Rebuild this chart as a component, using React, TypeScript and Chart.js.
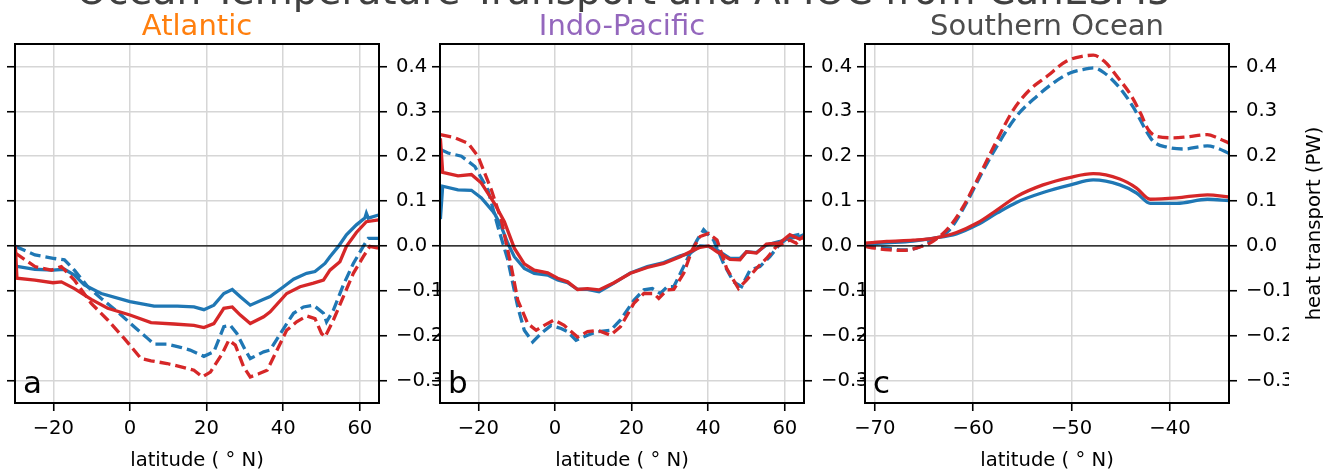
import { useEffect, useRef } from "react";
import { Chart, registerables } from "chart.js";
Chart.register(...registerables);

const W = 1323;
const H = 474;
const FONT = '"DejaVu Sans", sans-serif';

// ---- Tick values ----
const yTicks = [-0.3, -0.2, -0.1, 0.0, 0.1, 0.2, 0.3, 0.4];
const tropXTicks = [-20, 0, 20, 40, 60];
const soXTicks = [-70, -60, -50, -40];

// ---- Atlantic ----
const atlBlueSolidLat = [-29.9, -24.8, -20.1, -17.1, -14.5, -11.9, -7.5, 0, 6.3, 12.4, 16.7, 19.3, 21.9, 24.5, 26.7, 28.8, 31.4, 34.9, 36.6, 40.1, 42.7, 46.1, 48.3, 50.9, 52.2, 54.4, 56.5, 59.1, 61.3, 61.7, 62.2, 64.9];
const atlBlueSolid = [-0.045, -0.052, -0.054, -0.052, -0.065, -0.087, -0.106, -0.124, -0.134, -0.134, -0.136, -0.142, -0.132, -0.106, -0.097, -0.113, -0.132, -0.119, -0.113, -0.091, -0.074, -0.061, -0.057, -0.039, -0.024, -0.001, 0.025, 0.047, 0.062, 0.073, 0.062, 0.069];
const atlRedSolidLat = [-29.9, -29.5, -24.8, -20.1, -17.9, -14.5, -10.1, -5.8, 0, 5.5, 11.5, 16.7, 19.3, 21.9, 24.5, 26.7, 28.8, 31.4, 34.9, 36.6, 40.9, 44.4, 47.9, 50.5, 52.2, 54.8, 56.5, 59.1, 61.7, 64.9];
const atlRedSolid = [-0.001, -0.072, -0.076, -0.082, -0.080, -0.095, -0.119, -0.139, -0.154, -0.171, -0.174, -0.177, -0.182, -0.173, -0.139, -0.136, -0.154, -0.173, -0.158, -0.147, -0.106, -0.091, -0.083, -0.076, -0.054, -0.035, -0.001, 0.030, 0.054, 0.058];
const atlBlueDashLat = [-29.9, -24.8, -19.7, -17.1, -14.5, -11.0, -7.5, -3.2, 1.1, 4.6, 6.3, 9.7, 13.2, 15.7, 19.3, 21.9, 24.5, 26.2, 27.9, 30.1, 31.4, 34.9, 36.6, 40.1, 42.7, 45.3, 47.9, 50.5, 51.3, 53.1, 55.7, 58.3, 60.9, 62.2, 64.9];
const atlBlueDash = [-0.001, -0.020, -0.028, -0.031, -0.054, -0.091, -0.117, -0.147, -0.180, -0.206, -0.219, -0.219, -0.226, -0.232, -0.246, -0.236, -0.180, -0.177, -0.195, -0.232, -0.251, -0.236, -0.232, -0.184, -0.150, -0.136, -0.132, -0.150, -0.169, -0.143, -0.087, -0.039, -0.001, 0.017, 0.017];
const atlRedDashLat = [-29.9, -24.8, -20.5, -17.9, -14.5, -10.1, -5.8, -1.5, 2.9, 5.5, 9.7, 14.1, 16.7, 18.9, 21.0, 24.1, 25.8, 27.5, 29.7, 31.4, 33.6, 35.8, 38.4, 40.9, 43.5, 46.1, 48.3, 50.0, 50.9, 53.1, 55.7, 58.3, 60.9, 62.6, 64.9];
const atlRedDash = [-0.016, -0.046, -0.054, -0.046, -0.076, -0.128, -0.165, -0.206, -0.251, -0.256, -0.262, -0.271, -0.277, -0.292, -0.281, -0.240, -0.210, -0.221, -0.270, -0.292, -0.285, -0.277, -0.232, -0.188, -0.169, -0.156, -0.162, -0.195, -0.203, -0.165, -0.113, -0.061, -0.024, -0.001, -0.005];

// ---- Indo-Pacific ----
const indBlueSolidLat = [-29.9, -29.3, -25.3, -21.8, -19.2, -15.8, -14.0, -12.3, -10.6, -8.0, -5.4, -1.9, 0.7, 3.3, 5.9, 8.5, 11.5, 15.4, 19.7, 24.1, 28.4, 32.7, 35.3, 37.9, 40.1, 42.3, 45.7, 48.3, 50.0, 52.6, 55.2, 58.7, 61.3, 63.9, 64.9];
const indBlueSolid = [0.06, 0.133, 0.125, 0.124, 0.107, 0.073, 0.043, 0.006, -0.024, -0.050, -0.061, -0.065, -0.076, -0.082, -0.097, -0.097, -0.102, -0.083, -0.060, -0.046, -0.037, -0.022, -0.016, 0.0, -0.001, -0.009, -0.028, -0.028, -0.013, -0.015, 0.002, 0.010, 0.017, 0.021, 0.025];
const indRedSolidLat = [-29.9, -29.3, -25.3, -21.8, -19.2, -15.8, -13.2, -10.6, -8.0, -5.4, -1.9, 0.7, 3.3, 5.9, 8.5, 11.5, 15.4, 19.7, 24.1, 28.4, 32.7, 35.3, 37.9, 40.1, 42.3, 45.7, 48.3, 50.0, 52.6, 55.2, 58.7, 61.3, 63.9, 64.9];
const indRedSolid = [0.24, 0.164, 0.156, 0.159, 0.140, 0.095, 0.054, -0.005, -0.040, -0.054, -0.060, -0.072, -0.080, -0.097, -0.095, -0.098, -0.082, -0.061, -0.048, -0.039, -0.024, -0.013, -0.003, 0.0, -0.013, -0.030, -0.031, -0.013, -0.016, 0.004, 0.007, 0.025, 0.015, 0.021];
const indBlueDashLat = [-29.9, -27.9, -24.4, -20.9, -17.5, -14.9, -12.3, -9.7, -8.0, -5.8, -3.6, -1.0, 1.6, 3.3, 5.5, 8.5, 11.1, 14.5, 17.1, 20.6, 23.2, 25.4, 27.5, 29.3, 31.0, 33.6, 35.3, 37.1, 38.8, 41.4, 44.0, 46.6, 48.7, 50.9, 53.5, 56.1, 58.7, 61.3, 64.9];
const indBlueDash = [0.215, 0.207, 0.200, 0.177, 0.125, 0.043, -0.031, -0.136, -0.188, -0.214, -0.195, -0.177, -0.184, -0.191, -0.210, -0.199, -0.191, -0.188, -0.165, -0.121, -0.098, -0.095, -0.106, -0.091, -0.091, -0.046, -0.016, 0.013, 0.036, 0.013, -0.039, -0.080, -0.091, -0.054, -0.046, -0.024, 0.004, 0.021, 0.028];
const indRedDashLat = [-29.9, -26.1, -22.7, -20.1, -16.6, -14.0, -11.4, -9.7, -7.1, -4.9, -2.8, -0.2, 2.4, 5.9, 8.5, 11.1, 14.5, 17.1, 20.6, 23.2, 25.8, 27.1, 29.3, 31.0, 33.6, 35.8, 37.9, 40.1, 42.3, 44.8, 47.9, 50.0, 52.6, 55.2, 57.8, 61.3, 63.0, 64.9];
const indRedDash = [0.248, 0.241, 0.229, 0.200, 0.125, 0.058, -0.046, -0.121, -0.173, -0.188, -0.177, -0.165, -0.177, -0.203, -0.191, -0.188, -0.199, -0.180, -0.128, -0.106, -0.106, -0.117, -0.098, -0.097, -0.061, -0.009, 0.021, 0.028, 0.013, -0.050, -0.095, -0.076, -0.050, -0.028, -0.001, 0.013, 0.006, 0.021];

// ---- Southern Ocean ----
const soSolidLat = [-71, -68.8, -66.1, -64.1, -61.7, -59.6, -57.6, -55.6, -52.9, -50.1, -47.8, -45.1, -43.4, -42.0, -39.3, -36.2, -34];
const soRedSolid = [0.006, 0.010, 0.013, 0.017, 0.030, 0.051, 0.080, 0.110, 0.136, 0.153, 0.161, 0.149, 0.129, 0.104, 0.107, 0.114, 0.109];
const soBlueSolid = [0.004, 0.007, 0.011, 0.017, 0.027, 0.047, 0.073, 0.097, 0.119, 0.136, 0.147, 0.136, 0.118, 0.095, 0.095, 0.104, 0.101];
const soRedDashLat = [-71, -70, -68.5, -67.1, -65.8, -64.1, -62.4, -61.0, -59.6, -57.9, -55.9, -54.2, -52.5, -50.5, -48.8, -47.8, -46.7, -45.4, -44.0, -43.0, -42.2, -41.3, -39.6, -38.3, -36.2, -35.2, -34];
const soRedDash = [-0.001, -0.005, -0.009, -0.010, -0.005, 0.010, 0.043, 0.088, 0.147, 0.222, 0.304, 0.349, 0.378, 0.412, 0.423, 0.425, 0.412, 0.378, 0.337, 0.296, 0.259, 0.244, 0.241, 0.243, 0.248, 0.241, 0.229];
const soBlueDashLat = [-71, -68.8, -67.1, -65.8, -64.1, -62.4, -60.7, -59.3, -57.6, -55.6, -53.5, -51.8, -50.1, -48.4, -47.8, -46.7, -45.1, -43.7, -42.3, -41.7, -40.3, -38.6, -36.2, -35.2, -34];
const soBlueDash = [-0.001, -0.005, -0.009, -0.005, 0.013, 0.036, 0.095, 0.155, 0.222, 0.289, 0.334, 0.364, 0.386, 0.395, 0.397, 0.386, 0.352, 0.308, 0.252, 0.233, 0.220, 0.216, 0.223, 0.218, 0.206];

const BLUE = "#1f77b4";
const RED = "#d62728";

type S = { lat: number[]; val: number[]; color: string; dashed: boolean };
type P = {
  key: string; title: string; titleColor: string; xMin: number; xMax: number; xTicks: number[];
  left: number; right: number; smooth: boolean; series: S[]; mainTitle?: boolean; yTitle?: boolean;
};

const panels: P[] = [
  {
    key: "a", title: "Atlantic", titleColor: "#ff7f0e", xMin: -30, xMax: 65, xTicks: tropXTicks,
    left: 15, right: 379, smooth: false,
    series: [
      { lat: atlRedDashLat, val: atlRedDash, color: RED, dashed: true },
      { lat: atlRedSolidLat, val: atlRedSolid, color: RED, dashed: false },
      { lat: atlBlueDashLat, val: atlBlueDash, color: BLUE, dashed: true },
      { lat: atlBlueSolidLat, val: atlBlueSolid, color: BLUE, dashed: false },
    ],
  },
  {
    key: "b", title: "Indo-Pacific", titleColor: "#9467bd", xMin: -30, xMax: 65, xTicks: tropXTicks,
    left: 440, right: 804, smooth: false, mainTitle: true,
    series: [
      { lat: indRedDashLat, val: indRedDash, color: RED, dashed: true },
      { lat: indRedSolidLat, val: indRedSolid, color: RED, dashed: false },
      { lat: indBlueDashLat, val: indBlueDash, color: BLUE, dashed: true },
      { lat: indBlueSolidLat, val: indBlueSolid, color: BLUE, dashed: false },
    ],
  },
  {
    key: "c", title: "Southern Ocean", titleColor: "#4d4d4d", xMin: -71, xMax: -34, xTicks: soXTicks,
    left: 865, right: 1229, smooth: true, yTitle: true,
    series: [
      { lat: soRedDashLat, val: soRedDash, color: RED, dashed: true },
      { lat: soSolidLat, val: soRedSolid, color: RED, dashed: false },
      { lat: soBlueDashLat, val: soBlueDash, color: BLUE, dashed: true },
      { lat: soSolidLat, val: soBlueSolid, color: BLUE, dashed: false },
    ],
  },
];

const TOP = 44;
const BOTTOM = 403;
const TICK_LEN = 8;
const RIGHT_AXIS_W = 60;
const TICK_SIZE = 19.6;

const fmt = (v: number) => {
  const r = Math.round(v * 10) / 10;
  return (r < 0 ? "\u2212" : "") + Math.abs(r).toFixed(1);
};

function makeChart(canvas: HTMLCanvasElement, p: P) {
  const deco = {
    id: "deco" + p.key,
    beforeDraw(chart: any) {
      const { ctx, chartArea: a } = chart;
      ctx.save();
      ctx.fillStyle = "#ffffff";
      ctx.fillRect(a.left, a.top, a.right - a.left, a.bottom - a.top);
      ctx.restore();
    },
    afterDatasetsDraw(chart: any) {
      const { ctx, chartArea: a } = chart;
      const y0 = chart.scales.y.getPixelForValue(0);
      ctx.save();
      ctx.strokeStyle = "#000";
      ctx.lineWidth = 1.3;
      ctx.beginPath();
      ctx.moveTo(a.left, y0);
      ctx.lineTo(a.right, y0);
      ctx.stroke();
      ctx.lineWidth = 2;
      ctx.strokeRect(a.left, a.top, a.right - a.left, a.bottom - a.top);
      ctx.restore();
    },
    afterDraw(chart: any) {
      const { ctx, chartArea: a } = chart;
      const cx = (a.left + a.right) / 2;
      ctx.save();
      ctx.textBaseline = "alphabetic";
      ctx.textAlign = "center";
      ctx.fillStyle = p.titleColor;
      ctx.font = `29px ${FONT}`;
      ctx.fillText(p.title, cx, 35);
      ctx.fillStyle = "#000";
      ctx.font = `${TICK_SIZE}px ${FONT}`;
      ctx.fillText("latitude ( \u00b0 N)", cx, 466);
      ctx.textAlign = "left";
      ctx.font = `31px ${FONT}`;
      ctx.fillText(p.key, a.left + 8, 393);
      if (p.mainTitle) {
        ctx.textAlign = "center";
        ctx.fillStyle = "#404040";
        ctx.font = `39px ${FONT}`;
        ctx.fillText("Ocean Temperature Transport and AMOC from CanESM5", 624, 4);
      }
      if (p.yTitle) {
        ctx.translate(1320, (a.top + a.bottom) / 2);
        ctx.rotate(-Math.PI / 2);
        ctx.textAlign = "center";
        ctx.fillStyle = "#000";
        ctx.font = `${TICK_SIZE}px ${FONT}`;
        ctx.fillText("heat transport (PW)", 0, 0);
      }
      ctx.restore();
    },
  };

  const tickFont = { family: FONT, size: TICK_SIZE };
  const gridBase = { color: "#d6d6d6", lineWidth: 1.5, tickColor: "#000", tickLength: TICK_LEN, tickWidth: 1.6 };
  const setY = (s: any) => { s.ticks = yTicks.map((v) => ({ value: v })); };

  return new Chart(canvas, {
    type: "line",
    data: {
      datasets: p.series.map((s) => ({
        data: s.lat.map((x, i) => ({ x, y: s.val[i] })),
        borderColor: s.color,
        backgroundColor: s.color,
        borderWidth: 3.3,
        borderDash: s.dashed ? [11, 5] : [],
        pointRadius: 0,
        fill: false,
        tension: p.smooth ? 0.4 : 0,
        cubicInterpolationMode: p.smooth ? "monotone" : "default",
        clip: 0,
        xAxisID: "x",
        yAxisID: "y",
      })),
    },
    options: {
      animation: false,
      responsive: false,
      devicePixelRatio: 1,
      events: [],
      layout: { padding: { left: p.left - TICK_LEN, right: W - p.right - RIGHT_AXIS_W, top: TOP, bottom: 0 } },
      plugins: { legend: { display: false }, tooltip: { enabled: false }, title: { display: false } },
      scales: {
        x: {
          type: "linear", position: "bottom", min: p.xMin, max: p.xMax,
          afterBuildTicks: (s: any) => { s.ticks = p.xTicks.map((v) => ({ value: v })); },
          afterFit: (s: any) => { s.height = H - BOTTOM; },
          ticks: { font: tickFont, color: "#000", padding: 6, maxRotation: 0, autoSkip: false, callback: (v: any) => (v < 0 ? "\u2212" : "") + Math.abs(v) },
          grid: gridBase,
          border: { display: false },
        },
        y: {
          type: "linear", position: "left", min: -0.35, max: 0.45,
          afterBuildTicks: setY,
          afterFit: (s: any) => { s.width = TICK_LEN; },
          ticks: { display: false },
          grid: gridBase,
          border: { display: false },
        },
        y2: {
          type: "linear", position: "right", min: -0.35, max: 0.45,
          afterBuildTicks: setY,
          afterFit: (s: any) => { s.width = RIGHT_AXIS_W; },
          ticks: { display: true, font: tickFont, color: "#000", padding: 9, callback: (v: any) => fmt(v) },
          grid: { ...gridBase, drawOnChartArea: false },
          border: { display: false },
        },
      },
    } as any,
    plugins: [deco],
  });
}

export default function App() {
  const refs = [useRef<HTMLCanvasElement>(null), useRef<HTMLCanvasElement>(null), useRef<HTMLCanvasElement>(null)];
  useEffect(() => {
    const charts = panels.map((p, i) => makeChart(refs[i].current as HTMLCanvasElement, p));
    return () => charts.forEach((c) => c.destroy());
  }, []);
  return (
    <div style={{ position: "absolute", left: 0, top: 0, width: W, height: H, background: "#fff", overflow: "hidden" }}>
      {panels.map((p, i) => (
        <canvas
          key={p.key}
          ref={refs[i]}
          width={W}
          height={H}
          style={{ position: "absolute", left: 0, top: 0, width: W, height: H }}
        />
      ))}
    </div>
  );
}
